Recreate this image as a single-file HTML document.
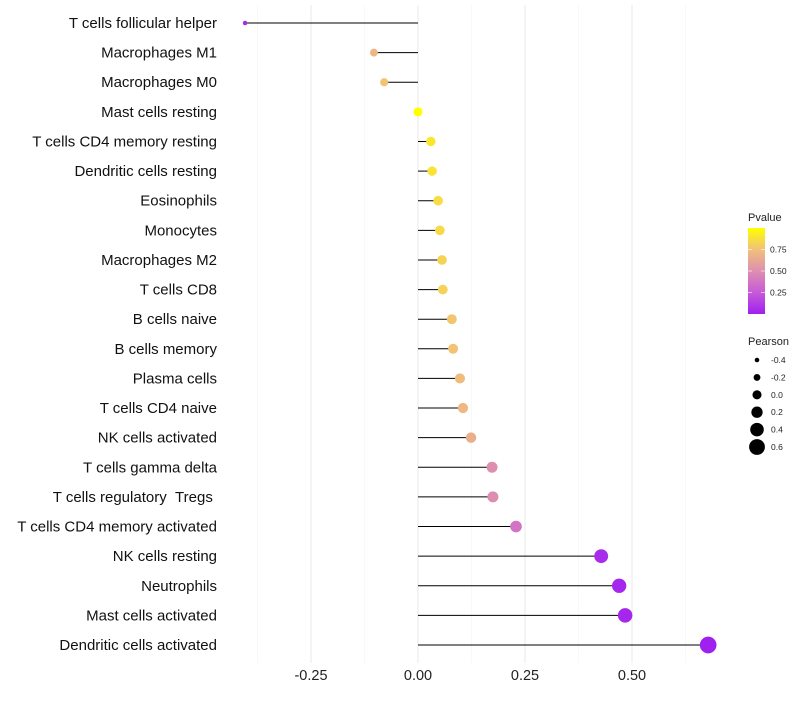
<!DOCTYPE html>
<html><head><meta charset="utf-8"><style>
body{margin:0;background:#fff;font-family:"Liberation Sans",sans-serif}
</style></head><body>
<svg id="c" width="800" height="700" xmlns="http://www.w3.org/2000/svg">
<defs><linearGradient id="pg" x1="0" y1="1" x2="0" y2="0">
<stop offset="0" stop-color="#A020F0"/><stop offset="0.25" stop-color="#C65AD8"/><stop offset="0.5" stop-color="#DE8FB0"/><stop offset="0.75" stop-color="#F1C07A"/><stop offset="1" stop-color="#FFFF00"/></linearGradient></defs>
<g id="grid"></g><g id="marks"></g><g id="labels"></g><g id="legend"></g>
</svg>
<script>
const categories=["T cells follicular helper","Macrophages M1","Macrophages M0","Mast cells resting","T cells CD4 memory resting","Dendritic cells resting","Eosinophils","Monocytes","Macrophages M2","T cells CD8","B cells naive","B cells memory","Plasma cells","T cells CD4 naive","NK cells activated","T cells gamma delta","T cells regulatory\u00a0\u00a0Tregs\u00a0","T cells CD4 memory activated","NK cells resting","Neutrophils","Mast cells activated","Dendritic cells activated"];
const pearson=[-0.404,-0.103,-0.079,0.0,0.030,0.033,0.047,0.051,0.056,0.058,0.079,0.082,0.098,0.105,0.124,0.173,0.175,0.229,0.428,0.470,0.484,0.678];
const pvalue=[0.05,0.7,0.76,1.0,0.9,0.89,0.86,0.85,0.83,0.82,0.77,0.76,0.73,0.71,0.66,0.5,0.49,0.37,0.05,0.03,0.03,0.002];
const xTicks=[-0.25,0,0.25,0.5];
const xTickLabels=["-0.25","0.00","0.25","0.50"];
const legendP=[0.75,0.5,0.25];
const legendR=[-0.4,-0.2,0,0.2,0.4,0.6];
const NS="http://www.w3.org/2000/svg";
const x=v=>418+v*428;
const y=i=>23+i*(622/21);
const rad=p=>2.3+(p+0.4)*5.6;
const stops=[[0,[160,32,240]],[0.25,[198,90,216]],[0.5,[222,143,176]],[0.75,[241,192,122]],[1,[255,255,0]]];
function col(p){for(let k=0;k<stops.length-1;k++){const[a,c1]=stops[k],[b,c2]=stops[k+1];if(p<=b){const t=(p-a)/(b-a);return"rgb("+c1.map((c,j)=>Math.round(c+(c2[j]-c)*t)).join(",")+")";}}return"rgb(255,255,0)";}
function mk(tag,attrs,parent,text){const e=document.createElementNS(NS,tag);for(const k in attrs)e.setAttribute(k,attrs[k]);if(text!==undefined)e.textContent=text;document.getElementById(parent).appendChild(e);return e;}
for(let k=-3;k<=5;k++){const v=k*0.125;const g=mk("line",{x1:x(v),x2:x(v),y1:5,y2:663,stroke:k%2===0?"#ebebeb":"#f3f3f3","stroke-width":k%2===0?1.1:0.6},"grid");

}
xTicks.forEach((v,i)=>{const t=mk("text",{x:x(v),y:680,"text-anchor":"middle","font-size":14.5,fill:"#222"},"labels",xTickLabels[i]);

});
categories.forEach((c,i)=>{
const t=mk("text",{x:217,y:y(i)+5,"text-anchor":"end","font-size":15,fill:"#111"},"labels",c);


const l=mk("line",{x1:x(0),x2:x(pearson[i]),y1:y(i),y2:y(i),stroke:"#000","stroke-width":1},"marks");


const d=mk("circle",{cx:x(pearson[i]),cy:y(i),r:rad(pearson[i]),fill:col(pvalue[i])},"marks");


});
let e;
e=mk("text",{x:748,y:221,"font-size":11,fill:"#222"},"legend","Pvalue");


e=mk("rect",{x:748,y:228,width:17,height:86,fill:"url(#pg)"},"legend");


legendP.forEach(p=>{const yy=314-p*86;
e=mk("text",{x:770,y:yy+3,"font-size":8.5,fill:"#222"},"legend",p.toFixed(2));


mk("line",{x1:748,x2:752,y1:yy,y2:yy,stroke:"#fff","stroke-width":0.6},"legend");
mk("line",{x1:761,x2:765,y1:yy,y2:yy,stroke:"#fff","stroke-width":0.6},"legend");});
e=mk("text",{x:748,y:345,"font-size":11,fill:"#222"},"legend","Pearson");


legendR.forEach((r,i)=>{const yy=360+i*17.4;
e=mk("circle",{cx:757,cy:yy,r:rad(r),fill:"#000"},"legend");


e=mk("text",{x:771,y:yy+3,"font-size":8.5,fill:"#222"},"legend",r.toFixed(1));

});
</script>
</body></html>
